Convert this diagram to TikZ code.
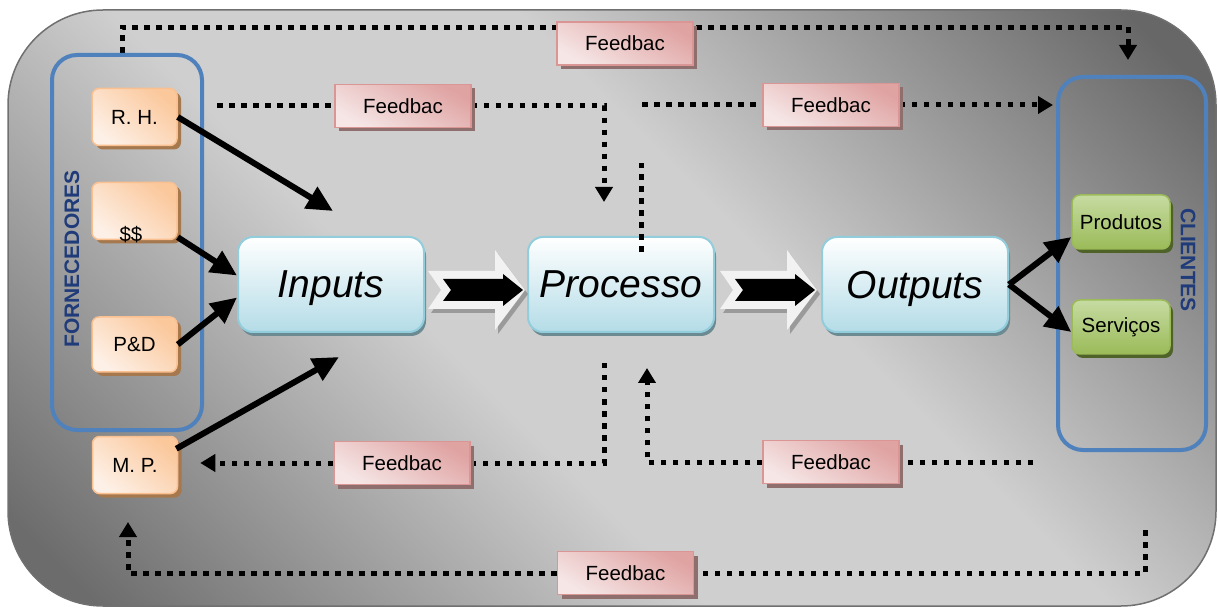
\documentclass[tikz,border=0pt]{standalone}
\usepackage{fontspec}
\setmainfont{Liberation Sans}
\usetikzlibrary{arrows.meta,shadows,calc}
\pgfdeclarelayer{back}\pgfdeclarelayer{lines}
\pgfsetlayers{back,lines,main}
\definecolor{bgdark}{HTML}{676767}
\definecolor{bglight}{HTML}{CFCFCF}
\definecolor{bgdark2}{HTML}{6C6C6C}
\definecolor{bgborder}{HTML}{707070}
\definecolor{grpblue}{HTML}{4F81BD}
\definecolor{txtblue}{HTML}{1F3B7A}
\definecolor{orbord}{HTML}{FAC090}
\definecolor{ortop}{HTML}{FBC89C}
\definecolor{orlight}{HTML}{FDF0E6}
\definecolor{orshadow}{HTML}{A6784E}
\definecolor{pkbord}{HTML}{D99694}
\definecolor{pkdark}{HTML}{DFA3A2}
\definecolor{pklight}{HTML}{F6E6E6}
\definecolor{pkshadow}{HTML}{8F6E6E}
\definecolor{blbord}{HTML}{92CDDC}
\definecolor{blbottom}{HTML}{B4DCE7}
\definecolor{blshadow}{HTML}{6C8A92}
\definecolor{grbord}{HTML}{9BBB59}
\definecolor{grtop}{HTML}{C6DBA2}
\definecolor{grbottom}{HTML}{9BBB59}
\definecolor{grshadow}{HTML}{4F6228}
\definecolor{arwhite}{HTML}{F2F2F2}
\definecolor{arshadow}{HTML}{9A9A9A}
\pgfdeclareverticalshading{bgshade}{100bp}{color(0bp)=(bgdark2); color(18bp)=(bgdark2); color(42bp)=(bglight); color(58bp)=(bglight); color(82bp)=(bgdark); color(100bp)=(bgdark)}
\tikzset{
  orbox/.style={rounded corners=7pt, minimum width=85pt, minimum height=57pt, inner sep=0pt,
    draw=orbord, line width=1.5pt, top color=ortop, bottom color=orlight, shading angle=-40,
    drop shadow={shadow xshift=4pt, shadow yshift=-4pt, fill=orshadow, opacity=1},
    font=\fontsize{20.5}{24}\selectfont},
  fbbox/.style={rectangle, minimum width=136pt, minimum height=43pt, inner sep=0pt,
    draw=pkbord, line width=1.5pt, top color=pkdark, bottom color=pklight, shading angle=-30,
    drop shadow={shadow xshift=4pt, shadow yshift=-4pt, fill=pkshadow, opacity=1},
    font=\fontsize{20.5}{24}\selectfont},
  bigbox/.style={rounded corners=15pt, minimum width=186pt, minimum height=95pt, inner sep=0pt,
    draw=blbord, line width=2pt, top color=white, bottom color=blbottom, text depth=0pt,
    drop shadow={shadow xshift=2pt, shadow yshift=-4pt, fill=blshadow, opacity=1},
    font=\fontsize{39}{44}\selectfont\itshape},
  grbox/.style={rounded corners=8pt, minimum width=98pt, minimum height=54pt, inner sep=0pt,
    draw=grbord, line width=1.5pt, top color=grtop, bottom color=grbottom,
    drop shadow={shadow xshift=3pt, shadow yshift=-4pt, fill=grshadow, opacity=1},
    font=\fontsize{20.5}{24}\selectfont},
  group/.style={rounded corners=25pt, draw=grpblue, line width=4pt, inner sep=0pt},
  grplabel/.style={font=\fontsize{21}{24}\selectfont\bfseries, text=txtblue},
  fbline/.style={line width=5pt, dash pattern=on 5.5pt off 6.5pt, black},
  fbarrow/.style={-{Triangle[length=15pt,width=17pt]}},
  bigarrow/.style={line width=6pt, -{Triangle[length=26pt,width=24pt]}}
}
\begin{document}
\begin{tikzpicture}[x=1pt,y=-1pt]
\useasboundingbox (0,0) rectangle (1218,609);
\begin{pgfonlayer}{back}
\shadedraw[draw=bgborder, line width=1.5pt, rounded corners=95pt,
  shading=bgshade, shading angle=-45]
  (8,10) rectangle (1216,606);
\end{pgfonlayer}

% groups
\node[group, minimum width=150pt, minimum height=375pt] (forn) at (127,242.5) {};
\node[group, minimum width=148pt, minimum height=373pt] (cli) at (1132,263.5) {};
\node[grplabel, rotate=90] (fornl) at (72,259) {FORNECEDORES};
\node[grplabel, rotate=-90] (clil) at (1188,260) {CLIENTES};

% supplier boxes
\node[orbox] (rh) at (134.5,117) {R. H.};
\node[orbox] (dol) at (134.5,211) {};
\node[font=\fontsize{20.5}{24}\selectfont] (doltxt) at (131,235) {\$\$};
\node[orbox, minimum height=55pt] (pd) at (134.5,344.5) {P\&D};
\node[orbox] (mp) at (135,465) {M. P.};

% main boxes
\node[bigbox] (inp) at (331,284.5) {Inputs};
\node[bigbox] (proc) at (621,284.5) {Processo};
\node[bigbox] (out) at (915,284.5) {Outputs};

% client boxes
\node[grbox] (prod) at (1121,222) {Produtos};
\node[grbox] (serv) at (1121,327) {Serviços};

% feedback boxes
\node[fbbox] (fb1) at (625,43.5) {Feedbac};
\node[fbbox] (fb2) at (403,106) {Feedbac};
\node[fbbox] (fb3) at (831,105) {Feedbac};
\node[fbbox] (fb4) at (402,463) {Feedbac};
\node[fbbox] (fb5) at (831,462) {Feedbac};
\node[fbbox] (fb6) at (625.5,573) {Feedbac};

% coordinates for free ends
\coordinate (s2) at (217,106);
\coordinate (e2) at (604,202);
\coordinate (s3) at (641,252);
\coordinate (e3) at (641,163);
\coordinate (s4) at (642,105);
\coordinate (s5) at (604,363);
\coordinate (s6) at (1033,462);
\coordinate (e6) at (647,368);
\coordinate (s7) at (1145,530);
\coordinate (e7) at (128,522);
\coordinate (a1) at (333,211);
\coordinate (a4) at (339,357);

% dotted feedback lines
\begin{pgfonlayer}{lines}
\draw[fbline, fbarrow, shorten >=15pt] ([xshift=-5pt]forn.north) |- ($(fb1.north)+(0,6)$) -| ([xshift=-4pt]cli.north);
\draw[fbline] (s2) -- (fb2.west);
\draw[fbline, fbarrow] (fb2.east) -| (e2);
\draw[fbline] (s4) -- (fb3.west);
\draw[fbline, fbarrow, shorten >=3pt] (fb3.east) -- (fb3.east -| cli.west);
\draw[fbline] (s5) |- (fb4.east);
\draw[fbline, fbarrow, shorten >=22pt] (fb4.west) -- (fb4.west -| mp.east);
\draw[fbline] (s6) -- (fb5.east);
\draw[fbline, fbarrow] (fb5.west) -| (e6);
\draw[fbline] (s7) |- (fb6.east);
\draw[fbline, fbarrow] (fb6.west) -| (e7);
\end{pgfonlayer}
\draw[fbline] (s3) -- (e3);

% block arrows
\foreach \dx in {0,292}{
  \begin{scope}[xshift=\dx pt]
    \fill[arshadow, xshift=3pt, yshift=-4pt] (428,271) -- (495,271) -- (495,250) -- (525,290) -- (495,330) -- (495,309) -- (428,309) -- (441,290) -- cycle;
    \fill[arwhite] (428,271) -- (495,271) -- (495,250) -- (525,290) -- (495,330) -- (495,309) -- (428,309) -- (441,290) -- cycle;
    \fill[black] (443,279) -- (503,279) -- (503,274) -- (523,290) -- (503,306) -- (503,301) -- (443,301) -- (451,290) -- cycle;
  \end{scope}
}

% thick arrows
\draw[bigarrow] (rh.east) -- (a1);
\draw[bigarrow] ($(dol.south east)+(0,-3)$) -- ($(inp.west)+(0,-9)$);
\draw[bigarrow] (pd.east) -- ($(inp.west)+(0,13)$);
\draw[bigarrow] ($(mp.north east)+(-2,13)$) -- (a4);
\draw[bigarrow] (out.east) -- ($(prod.west)+(0,15)$);
\draw[bigarrow] (out.east) -- ($(serv.west)+(0,5)$);
\end{tikzpicture}
\end{document}
